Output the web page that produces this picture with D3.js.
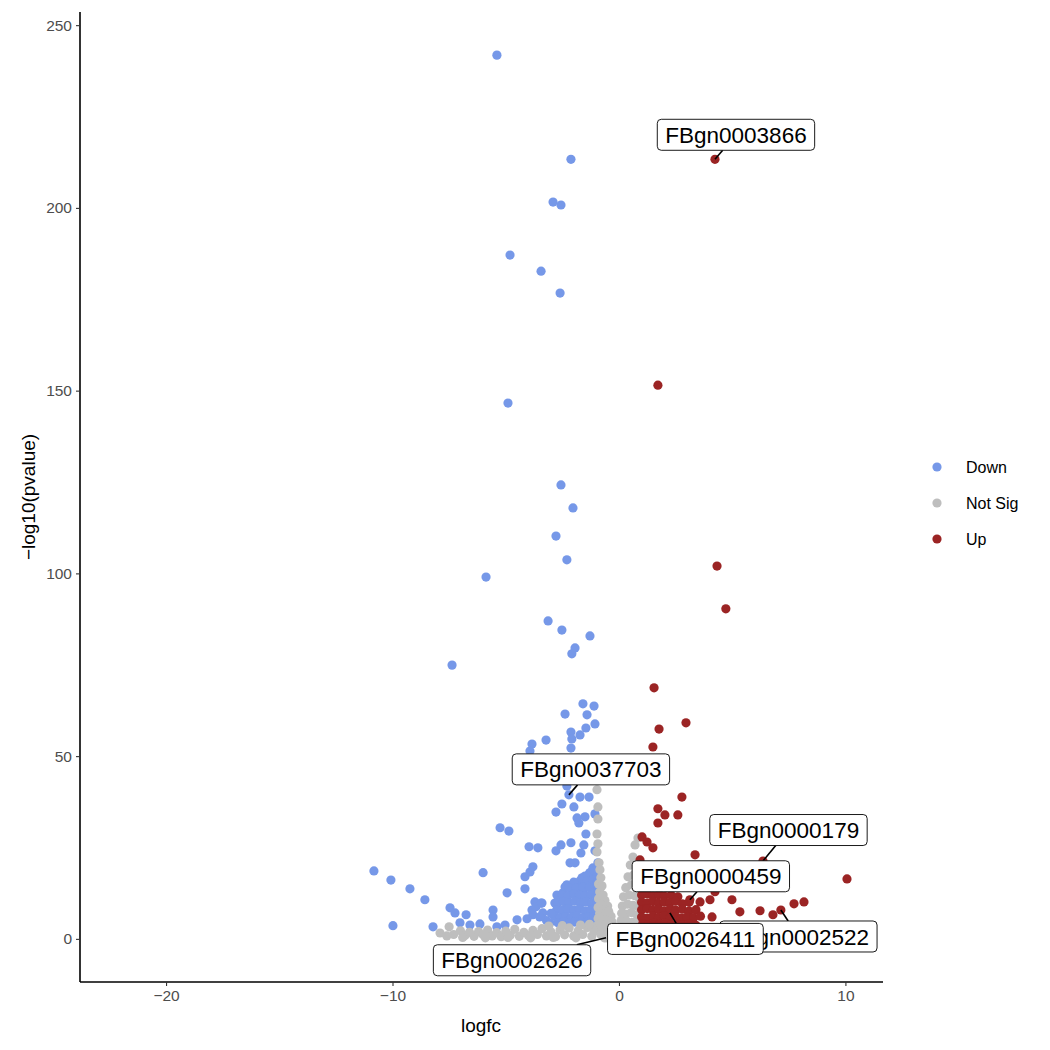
<!DOCTYPE html>
<html><head><meta charset="utf-8">
<script src="https://cdn.jsdelivr.net/npm/d3@7"></script>
<style>body{margin:0;background:#fff}</style>
</head><body>
<svg id="chart" width="1050" height="1050"></svg>
<script>
// ---------- DATA ----------
const categories = ["Down", "Not Sig", "Up"];
const xTicks = [-20, -10, 0, 10];
const yTicks = [0, 50, 100, 150, 200, 250];

// [logfc, -log10(pvalue)]
const downPoints = [
 [-5.39,241.8],[-2.12,213.3],[-2.91,201.6],[-2.56,200.8],[-4.81,187.1],[-3.44,182.7],[-2.60,176.7],
 [-4.90,146.6],[-2.56,124.2],[-2.03,117.9],[-2.78,110.2],[-2.30,103.7],[-5.87,99.0],[-3.13,87.0],
 [-2.52,84.5],[-1.28,82.9],[-1.94,79.6],[-2.08,78.0],[-7.37,74.9],[-1.59,64.3],[-1.10,63.7],
 [-2.38,61.5],[-1.41,61.3],[-1.06,58.8],[-1.46,57.7],[-2.12,56.6],[-1.72,55.8],[-2.08,54.7],
 [-3.84,53.3],[-3.22,54.4],[-2.12,52.2],[-3.93,51.4],[-2.30,41.8],[-2.21,39.4],[-1.72,38.8],
 [-1.32,38.8],[-2.52,36.9],[-1.99,36.1],[-2.78,34.7],[-1.50,33.4],[-1.06,34.2],[-1.85,33.1],
 [-1.77,31.7],[-5.25,30.4],[-4.86,29.5],[-1.46,28.7],[-1.55,25.7],[-2.12,26.3],[-2.56,25.7],
 [-3.97,25.2],[-3.58,24.9],[-2.78,24.1],[-1.06,24.1],[-1.68,23.5],[-2.16,20.8],[-1.94,20.8],
 [-0.93,20.8],[-4.15,17.0],[-3.93,18.3],[-3.80,19.7],[-10.82,18.6],[-10.07,16.1],[-9.23,13.7],
 [-8.57,10.7],[-6.00,18.1],[-4.94,12.6],[-4.15,13.7],[-2.30,14.8],[-7.46,8.5],[-7.24,7.1],
 [-6.75,6.6],[-9.98,3.6],[-8.21,3.3],[-5.56,7.9],[-5.56,6.0],[-6.14,4.1],[-7.02,4.4],[-6.58,3.8],
 [-4.50,5.2],[-3.84,7.9],[-3.44,9.8],[-2.69,10.1],[-2.47,12.6],[-1.59,13.4],[-3.71,10.1],
 [-3.80,6.6],[-4.06,5.5],[-3.05,4.4],[-2.52,5.7],[-2.30,8.2],[-3.36,7.1],[-3.66,8.8],[-3.40,9.8],
 [-2.83,9.8],[-2.74,12.0],[-2.38,14.2],[-1.85,15.3],[-1.41,14.2],[-1.63,16.7],[-1.28,18.1],
 [-1.15,19.4],[-5.39,3.3],[-5.03,3.8],
 [-1.3,18.0],[-1.1,18.5],[-0.95,17.5],[-1.5,17.2],
 [-1.7,16.0],[-1.4,15.8],[-1.15,16.2],[-0.95,15.5],[-2.0,15.5],
 [-2.2,14.0],[-1.9,13.8],[-1.6,14.2],[-1.3,14.0],[-1.05,14.3],[-0.95,13.2],
 [-2.5,12.0],[-2.25,11.8],[-2.0,12.3],[-1.75,12.0],[-1.5,11.7],[-1.25,12.1],[-1.0,11.6],
 [-2.7,9.8],[-2.45,10.2],[-2.2,9.9],[-1.95,10.3],[-1.7,9.7],[-1.45,10.1],[-1.2,9.8],[-0.97,10.0],
 [-2.75,8.0],[-2.5,7.8],[-2.25,8.2],[-2.0,7.9],[-1.75,8.1],[-1.5,7.7],[-1.25,8.0],[-1.0,7.9],
 [-2.85,6.2],[-2.6,5.8],[-2.35,6.1],[-2.1,5.9],[-1.85,6.2],[-1.6,5.8],[-1.35,6.0],[-1.1,6.1],[-0.95,5.5],
 [-2.7,4.4],[-2.45,4.7],[-2.2,4.3],[-1.95,4.6],[-1.7,4.2],[-1.45,4.5],[-1.2,4.4],[-1.0,4.6],
 [-3.2,5.0],[-3.0,7.0],[-3.5,6.0]
];

const nsPoints = [
 [-7.9,1.6],[-7.5,3.3],[-7.3,1.2],[-7.0,2.2],[-6.8,0.9],[-6.6,1.8],[-6.4,0.7],[-6.2,2.0],[-6.0,1.1],
 [-5.8,2.4],[-5.6,0.8],[-5.4,1.7],[-5.2,0.6],[-5.0,2.1],[-4.8,1.0],[-4.6,2.6],[-4.4,0.7],[-4.2,1.8],
 [-4.0,0.9],[-3.8,2.3],[-3.6,1.2],[-3.4,2.8],[-3.2,0.8],[-3.0,1.9],[-2.8,0.6],[-2.6,2.4],[-2.4,1.1],
 [-2.2,3.0],[-2.0,0.8],[-1.8,2.2],[-1.6,1.2],[-1.4,3.1],[-1.2,0.7],[-1.1,2.0],[-1.0,3.4],[-6.9,0.4],
 [-5.9,0.3],[-4.9,0.4],[-3.9,0.3],[-2.9,0.4],[-1.9,0.3],[-7.6,0.8],[-3.1,3.5],[-2.5,3.6],[-1.7,3.8],
 [-1.3,4.0],
 [-0.97,40.8],[-0.93,36.1],[-0.93,32.8],[-0.97,28.7],[-0.93,26.0],[-0.97,23.8],[-0.88,20.8],
 [-0.84,18.9],[-0.8,16.7],[-0.9,15.0],[-0.75,14.5],[-0.85,12.8],[-0.7,12.0],[-0.9,11.0],[-0.62,10.5],
 [-0.78,9.6],[-0.5,9.0],[-0.92,8.6],[-0.68,8.0],[-0.45,7.5],[-0.85,7.0],[-0.6,6.5],[-0.35,6.2],
 [-0.92,5.6],[-0.72,5.3],[-0.5,5.0],[-0.3,4.6],[-0.85,4.0],[-0.6,3.8],[-0.4,3.5],[-0.2,3.2],
 [-0.75,2.6],[-0.5,2.4],[-0.3,2.0],[-0.1,1.8],[-0.8,1.2],[-0.57,0.3],[-0.55,1.0],[-0.3,0.8],[-0.05,0.6],
 [-0.65,0.3],[-0.4,0.2],[-0.15,0.2],
 [0.84,27.6],[0.71,25.7],[0.62,22.4],[0.5,20.2],[0.75,21.0],[0.88,19.0],[0.4,17.0],[0.65,17.5],
 [0.9,16.5],[0.3,14.0],[0.55,14.8],[0.8,14.2],[0.95,13.0],[0.2,11.5],[0.45,12.0],[0.7,11.8],
 [0.92,10.8],[0.15,9.0],[0.38,9.5],[0.62,9.2],[0.85,8.8],[0.12,7.0],[0.3,6.8],[0.55,7.2],[0.8,6.5],
 [0.95,6.0],[0.1,5.0],[0.35,4.8],[0.6,4.5],[0.85,4.2],[0.15,3.0],[0.4,2.8],[0.65,3.0],[0.9,2.6],
 [0.1,1.5],[0.35,1.4],[0.6,1.6],[0.85,1.2],[0.2,0.4],[0.5,0.5],[0.8,0.3],[1.1,0.5],[1.4,0.6],
 [1.7,0.4],[2.0,0.6],[2.4,0.4],[2.8,0.5],[3.2,0.3],[3.6,0.5],[4.0,0.3]
];

const upPoints = [
 [4.24,213.3],[1.72,151.5],[4.33,102.0],[4.72,90.3],[1.55,68.7],[2.96,59.1],[1.77,57.4],[1.50,52.5],
 [2.78,38.8],[1.72,35.6],[2.03,33.9],[2.60,33.9],[1.72,31.7],[1.02,27.9],[1.24,26.5],[1.50,24.9],
 [3.36,23.0],[0.93,21.6],[6.36,21.3],[10.07,16.4],[4.24,15.6],[4.99,16.1],[6.36,17.0],[4.24,12.9],
 [4.99,10.7],[5.34,7.4],[6.23,7.7],[6.80,6.6],[7.15,7.9],[7.73,9.6],[8.17,10.1],[3.13,10.7],
 [2.25,7.1],[3.58,10.1],[4.02,10.7],[4.11,6.0],
 [1.0,16.5],[1.3,16.0],[1.7,15.8],
 [1.0,14.2],[1.25,13.8],[1.5,14.3],[1.8,13.9],[2.1,14.1],
 [1.0,12.0],[1.25,12.3],[1.5,11.8],[1.75,12.1],[2.0,11.7],[2.3,12.0],[2.6,11.5],
 [1.0,10.0],[1.25,9.8],[1.5,10.2],[1.75,9.7],[2.0,10.1],[2.25,9.8],[2.5,10.3],[2.8,9.6],[3.1,10.0],
 [1.0,8.0],[1.25,8.3],[1.5,7.8],[1.75,8.1],[2.0,7.7],[2.25,8.2],[2.5,7.9],[2.8,8.1],[3.1,7.6],[3.4,8.0],
 [1.0,6.0],[1.25,5.7],[1.5,6.2],[1.75,5.9],[2.0,6.3],[2.25,5.8],[2.5,6.1],[2.75,5.7],[3.0,6.0],[3.3,5.8],[3.6,6.2],
 [1.05,4.2],[1.3,3.9],[1.55,4.3],[1.8,4.0],[2.05,4.4],[2.3,3.8],[2.55,4.1],[2.8,3.9],[3.1,4.2],[3.4,3.7],
 [1.1,2.6],[1.4,2.8],[1.7,2.5],[2.0,2.7],[2.3,2.4],[2.6,2.6]
];

const labelGenes = ["FBgn0003866","FBgn0037703","FBgn0000179","FBgn0000459","FBgn0002522","FBgn0026411","FBgn0002626"];
const labelX = [4.24, -2.21, 6.36, 3.13, 7.15, 2.25, -0.57];
const labelY = [213.3, 39.4, 21.3, 10.7, 7.9, 7.1, 0.3];

// ---------- LAYOUT ----------
const labelOffsets = [[21,-24.5],[22,-25.5],[25.5,-31],[21,-23.5],[17.5,26.5],[15.5,26],[-94,22.5]];
const colors = {"Down":"#7698E8","Not Sig":"#BEBEBE","Up":"#9B2424"};
const R = 4.6;

const svg = d3.select("#chart");
const x = d3.scaleLinear().domain([-23.8, 11.66]).range([80, 883]);
const y = d3.scaleLinear().domain([-11.8, 253.6]).range([982, 12]);

const groups = [["Down", downPoints], ["Not Sig", nsPoints], ["Up", upPoints]];
groups.forEach(([cat, pts]) => {
  svg.append("g").selectAll("circle").data(pts).join("circle")
    .attr("cx", d => x(d[0])).attr("cy", d => y(d[1])).attr("r", R)
    .attr("fill", colors[cat]);
});

// axes
const fontTick = "Liberation Sans, Arial, Helvetica, sans-serif";
const xAxis = svg.append("g").attr("transform", "translate(0,982)")
  .call(d3.axisBottom(x).tickValues(xTicks).tickSize(4).tickPadding(4).tickFormat(d => d < 0 ? "\u2212" + Math.abs(d) : d));
const yAxis = svg.append("g").attr("transform", "translate(80,0)")
  .call(d3.axisLeft(y).tickValues(yTicks).tickSize(4).tickPadding(4));
[xAxis, yAxis].forEach(a => {
  a.select(".domain").attr("stroke", "#000").attr("stroke-width", 1.6);
  a.selectAll(".tick line").attr("stroke", "#333").attr("stroke-width", 1.1);
  a.selectAll(".tick text").attr("fill", "#4D4D4D").style("font-size", "15.5px").style("font-family", fontTick);
});
xAxis.select(".domain").attr("d", "M80,0H883");
yAxis.select(".domain").attr("d", "M0,982V12");

svg.append("text").attr("x", 481).attr("y", 1032).attr("text-anchor", "middle")
  .style("font-family", fontTick).style("font-size", "19px").attr("fill", "#000").text("logfc");
svg.append("text").attr("transform", "translate(28,497) rotate(-90)").attr("text-anchor", "middle").attr("dy", "0.35em")
  .style("font-family", fontTick).style("font-size", "19px").attr("fill", "#000").text("\u2212log10(pvalue)");

// legend
const leg = svg.append("g");
categories.forEach((c, i) => {
  leg.append("circle").attr("cx", 937).attr("cy", 467 + i * 36).attr("r", R).attr("fill", colors[c]);
  leg.append("text").attr("x", 966).attr("y", 467 + i * 36).attr("dy", "0.35em")
    .style("font-family", fontTick).style("font-size", "16px").attr("fill", "#000").text(c);
});

// labels
const lab = svg.append("g");
labelGenes.forEach((g, i) => {
  const px = x(labelX[i]), py = y(labelY[i]);
  const cx = px + labelOffsets[i][0], cy = py + labelOffsets[i][1];
  const t = lab.append("text").attr("x", cx).attr("y", cy).attr("dy", "0.36em").attr("text-anchor", "middle")
    .style("font-family", fontTick).style("font-size", "22.5px").attr("fill", "#000").text(g);
  const w = t.node().getComputedTextLength() + 16, h = 31;
  const dx = cx - px, dy = cy - py;
  const s = Math.min(Math.abs((w/2) / (dx || 1e-6)), Math.abs((h/2) / (dy || 1e-6)));
  const ex = cx - dx * s, ey = cy - dy * s;
  lab.insert("line", "text").attr("x1", px).attr("y1", py).attr("x2", ex).attr("y2", ey)
    .attr("stroke", "#000").attr("stroke-width", 1.6);
  lab.insert("rect", "text:last-of-type").attr("x", cx - w/2).attr("y", cy - h/2).attr("width", w).attr("height", h)
    .attr("rx", 4).attr("fill", "#fff").attr("stroke", "#000").attr("stroke-width", 0.9);
  t.raise();
});
</script>
</body></html>
